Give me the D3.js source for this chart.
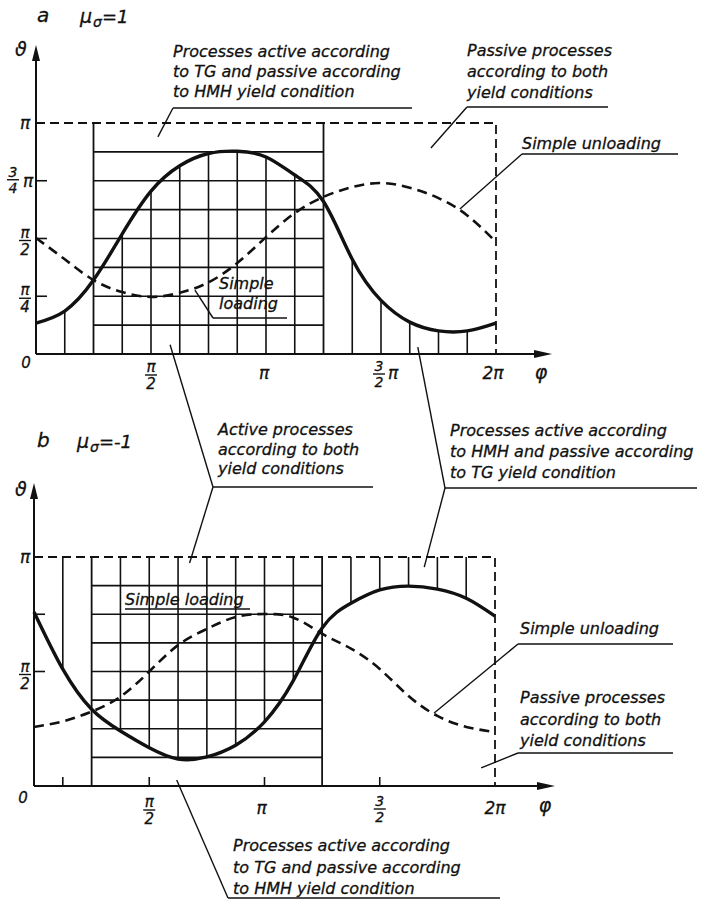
<!DOCTYPE html>
<html>
<head>
<meta charset="utf-8">
<script src="https://cdn.jsdelivr.net/npm/d3@7"></script>
<style>
  body { margin: 0; background: #fff; }
  svg text { font-family: "DejaVu Sans", sans-serif; font-style: italic; fill: #111; stroke: #111; stroke-width: 0.3; }
</style>
</head>
<body>
<div id="chart"></div>
<script>
// all angles in units of pi
const phi = [0, 0.125, 0.25, 0.375, 0.5, 0.625, 0.75, 0.875, 1, 1.125, 1.25, 1.375, 1.5, 1.625, 1.75, 1.875, 2];

// panel a, mu_sigma = 1
const solidA  = [0.134, 0.186, 0.32, 0.52, 0.705, 0.815, 0.868, 0.878, 0.853, 0.775, 0.66, 0.41, 0.232, 0.138, 0.10, 0.10, 0.134];
const dashedA = [0.502, 0.41, 0.32, 0.268, 0.247, 0.265, 0.31, 0.394, 0.506, 0.61, 0.68, 0.723, 0.74, 0.72, 0.675, 0.60, 0.485];

// panel b, mu_sigma = -1
const solidB  = [0.76, 0.51, 0.335, 0.24, 0.167, 0.118, 0.127, 0.178, 0.28, 0.46, 0.69, 0.798, 0.856, 0.873, 0.86, 0.82, 0.742];
const dashedB = [0.258, 0.282, 0.325, 0.39, 0.50, 0.615, 0.686, 0.738, 0.751, 0.735, 0.665, 0.60, 0.511, 0.393, 0.306, 0.258, 0.236];

// hatching: horizontal lines at k*pi/8 inside the zone, vertical lines at these phi
const hatchLevels = [0.125, 0.25, 0.375, 0.5, 0.625, 0.75, 0.875];
const hatchPhi = [0.125, 0.375, 0.5, 0.625, 0.75, 0.875, 1, 1.125, 1.375, 1.5, 1.625, 1.75, 1.875];
const zone = [0.25, 1.25];

const yTicksA = [0.25, 0.5, 0.75];
const yTicksB = [0.5, 0.75];
const xTicksB = [0.125, 0.5, 1, 1.5];

const width = 703, height = 902;
const svg = d3.select("#chart").append("svg")
  .attr("width", width).attr("height", height)
  .style("background", "#fff");

const ink = "#111";

function frac(g, cx, cy, num, den, size) {
  size = size || 15;
  g.append("text").attr("x", cx).attr("y", cy - 3).attr("text-anchor", "middle")
    .attr("font-size", size).text(num);
  g.append("line").attr("x1", cx - 6).attr("x2", cx + 6).attr("y1", cy).attr("y2", cy)
    .attr("stroke", ink).attr("stroke-width", 1.4);
  g.append("text").attr("x", cx).attr("y", cy + size - 1).attr("text-anchor", "middle")
    .attr("font-size", size).text(den);
}

function txt(g, x, y, s, size, anchor) {
  return g.append("text").attr("x", x).attr("y", y).attr("font-size", size || 16)
    .attr("text-anchor", anchor || "start").text(s);
}

function yOnPath(node, xp) {
  const L = node.getTotalLength();
  let lo = 0, hi = L;
  for (let i = 0; i < 40; i++) {
    const mid = (lo + hi) / 2;
    if (node.getPointAtLength(mid).x < xp) lo = mid; else hi = mid;
  }
  return node.getPointAtLength((lo + hi) / 2).y;
}

function panel(cfg) {
  const g = svg.append("g");
  const x = d3.scaleLinear().domain([0, 2]).range(cfg.xr);
  const y = d3.scaleLinear().domain([0, 1]).range(cfg.yr);
  const line = d3.line().x((d, i) => x(phi[i])).y(d => y(d)).curve(d3.curveNatural);

  const solid = g.append("path").datum(cfg.solid).attr("d", line)
    .attr("fill", "none").attr("stroke", ink).attr("stroke-width", 3.4);
  const sNode = solid.node();

  // zone hatch: horizontals
  g.append("g").selectAll("line").data(hatchLevels).join("line")
    .attr("x1", x(zone[0])).attr("x2", x(zone[1]))
    .attr("y1", d => y(d)).attr("y2", d => y(d))
    .attr("stroke", ink).attr("stroke-width", 1.6);
  // zone borders
  g.append("g").selectAll("line").data(zone).join("line")
    .attr("x1", d => x(d)).attr("x2", d => x(d))
    .attr("y1", y(0)).attr("y2", y(1))
    .attr("stroke", ink).attr("stroke-width", 1.8);
  // verticals bounded by the solid curve
  g.append("g").selectAll("line").data(hatchPhi).join("line")
    .attr("x1", d => x(d)).attr("x2", d => x(d))
    .attr("y1", cfg.hatchFromTop ? y(1) : y(0))
    .attr("y2", d => yOnPath(sNode, x(d)))
    .attr("stroke", ink).attr("stroke-width", 1.6);

  // dashed frame at pi and 2pi
  g.append("path")
    .attr("d", `M${x(0)},${y(1)}L${x(2)},${y(1)}L${x(2)},${y(0)}`)
    .attr("fill", "none").attr("stroke", ink).attr("stroke-width", 1.8)
    .attr("stroke-dasharray", "9,5");

  g.append("path").datum(cfg.dashed).attr("d", line)
    .attr("fill", "none").attr("stroke", ink).attr("stroke-width", 2.6)
    .attr("stroke-dasharray", "10,6");
  solid.raise();

  // axes
  g.append("line").attr("x1", x(0)).attr("x2", x(0)).attr("y1", y(0)).attr("y2", cfg.arrowTop + 10)
    .attr("stroke", ink).attr("stroke-width", 2);
  g.append("path").attr("d", `M${x(0)},${cfg.arrowTop}L${x(0) - 4},${cfg.arrowTop + 16}L${x(0) + 4},${cfg.arrowTop + 16}Z`).attr("fill", ink);
  g.append("line").attr("x1", x(0)).attr("x2", cfg.arrowRight - 10).attr("y1", y(0)).attr("y2", y(0))
    .attr("stroke", ink).attr("stroke-width", 2);
  g.append("path").attr("d", `M${cfg.arrowRight},${y(0)}L${cfg.arrowRight - 18},${y(0) - 4}L${cfg.arrowRight - 18},${y(0) + 4}Z`).attr("fill", ink);

  g.append("g").selectAll("line").data(cfg.yTicks).join("line")
    .attr("x1", x(0)).attr("x2", x(0) + 11).attr("y1", d => y(d)).attr("y2", d => y(d))
    .attr("stroke", ink).attr("stroke-width", 1.6);
  g.append("g").selectAll("line").data(cfg.xTicks || []).join("line")
    .attr("x1", d => x(d)).attr("x2", d => x(d)).attr("y1", y(0)).attr("y2", y(0) - 9)
    .attr("stroke", ink).attr("stroke-width", 1.6);

  return { g, x, y };
}

// ---- panel a ----
const A = panel({ xr: [36, 496], yr: [354, 123], solid: solidA, dashed: dashedA,
  yTicks: yTicksA, hatchFromTop: false, arrowTop: 45, arrowRight: 552 });
{
  const { g, x, y } = A;
  txt(g, 37, 22, "a", 20);
  txt(g, 80, 23, "μ", 19);
  txt(g, 93, 27, "σ", 14);
  txt(g, 102, 23, "=1", 18);
  txt(g, 15, 56, "ϑ", 19);
  txt(g, 25, y(1) + 6, "π", 17, "middle");
  frac(g, 13, y(0.75) - 1, "3", "4", 14);
  txt(g, 28, y(0.75) + 6, "π", 17, "middle");
  frac(g, 25, y(0.5) + 2, "π", "2", 15);
  frac(g, 25, y(0.25) + 2, "π", "4", 15);
  txt(g, 26, y(0) + 14, "0", 15, "middle");
  frac(g, x(0.5), y(0) + 21, "π", "2", 15);
  txt(g, x(1) - 2, y(0) + 25, "π", 17, "middle");
  frac(g, x(1.5) - 2, y(0) + 20, "3", "2", 14);
  txt(g, x(1.5) + 12, y(0) + 25, "π", 17, "middle");
  txt(g, x(2) - 3, y(0) + 25, "2π", 17, "middle");
  txt(g, 541, y(0) + 25, "φ", 19, "middle");
}

// ---- panel b ----
const B = panel({ xr: [34, 495], yr: [786, 557], solid: solidB, dashed: dashedB,
  yTicks: yTicksB, xTicks: xTicksB, hatchFromTop: true, arrowTop: 483, arrowRight: 555 });
{
  const { g, x, y } = B;
  txt(g, 37, 447, "b", 20);
  txt(g, 77, 448, "μ", 19);
  txt(g, 90, 452, "σ", 14);
  txt(g, 99, 448, "=-1", 18);
  txt(g, 15, 496, "ϑ", 19);
  txt(g, 25, y(1) + 6, "π", 17, "middle");
  frac(g, 25, y(0.5) + 3, "π", "2", 15);
  txt(g, 23, y(0) + 17, "0", 15, "middle");
  frac(g, x(0.5), y(0) + 24, "π", "2", 15);
  txt(g, x(1) - 3, y(0) + 28, "π", 17, "middle");
  frac(g, x(1.5), y(0) + 23, "3", "2", 14);
  txt(g, x(2), y(0) + 28, "2π", 17, "middle");
  txt(g, 545, y(0) + 26, "φ", 19, "middle");
  txt(g, 125, 605, "Simple loading", 16);
  g.append("line").attr("x1", 125).attr("x2", 250).attr("y1", 609).attr("y2", 609)
    .attr("stroke", ink).attr("stroke-width", 1.4);
}

// ---- annotations: text blocks with underline and leaders to points in the panels ----
const notes = [
  { lines: ["Processes active according", "to TG and passive according", "to HMH yield condition"],
    x: 173, y: 57, dy: 20, ul: [173, 412, 108], tips: [[A, 0.53, 0.94]] },
  { lines: ["Passive processes", "according to both", "yield conditions"],
    x: 467, y: 56, dy: 21, ul: [467, 608, 107], tips: [[A, 1.717, 0.892]] },
  { lines: ["Simple unloading"], x: 522, y: 149, dy: 20, ul: [522, 678, 154], tips: [[A, 1.843, 0.628]] },
  { lines: ["Simple", "loading"], x: 219, y: 289, dy: 20, ul: [213, 287, 318], tips: [[A, 0.691, 0.277]] },
  { lines: ["Active processes", "according to both", "yield conditions"],
    x: 218, y: 435, dy: 19.5, ul: [213, 373, 487], tips: [[A, 0.583, 0.04], [B, 0.675, 0.974]] },
  { lines: ["Processes active according", "to HMH and passive according", "to TG yield condition"],
    x: 450, y: 436, dy: 21, ul: [445, 697, 488], tips: [[A, 1.66, 0.03], [B, 1.693, 0.956]] },
  { lines: ["Simple unloading"], x: 520, y: 634, dy: 20, ul: [518, 673, 644], tips: [[B, 1.736, 0.319]] },
  { lines: ["Passive processes", "according to both", "yield conditions"],
    x: 520, y: 703, dy: 21.5, ul: [518, 673, 753], tips: [[B, 1.94, 0.079]] },
  { lines: ["Processes active according", "to TG and passive according", "to HMH yield condition"],
    x: 233, y: 851, dy: 21.5, ul: [228, 500, 898], tips: [[B, 0.619, 0.026]] }
];

const ng = svg.append("g");
notes.forEach(n => {
  n.lines.forEach((s, i) => txt(ng, n.x, n.y + i * n.dy, s, 16));
  ng.append("line").attr("x1", n.ul[0]).attr("x2", n.ul[1]).attr("y1", n.ul[2]).attr("y2", n.ul[2])
    .attr("stroke", ink).attr("stroke-width", 1.4);
  n.tips.forEach(([P, px, py]) => {
    ng.append("line").attr("x1", n.ul[0]).attr("y1", n.ul[2])
      .attr("x2", P.x(px)).attr("y2", P.y(py))
      .attr("stroke", ink).attr("stroke-width", 1.4);
  });
});
</script>
</body>
</html>
